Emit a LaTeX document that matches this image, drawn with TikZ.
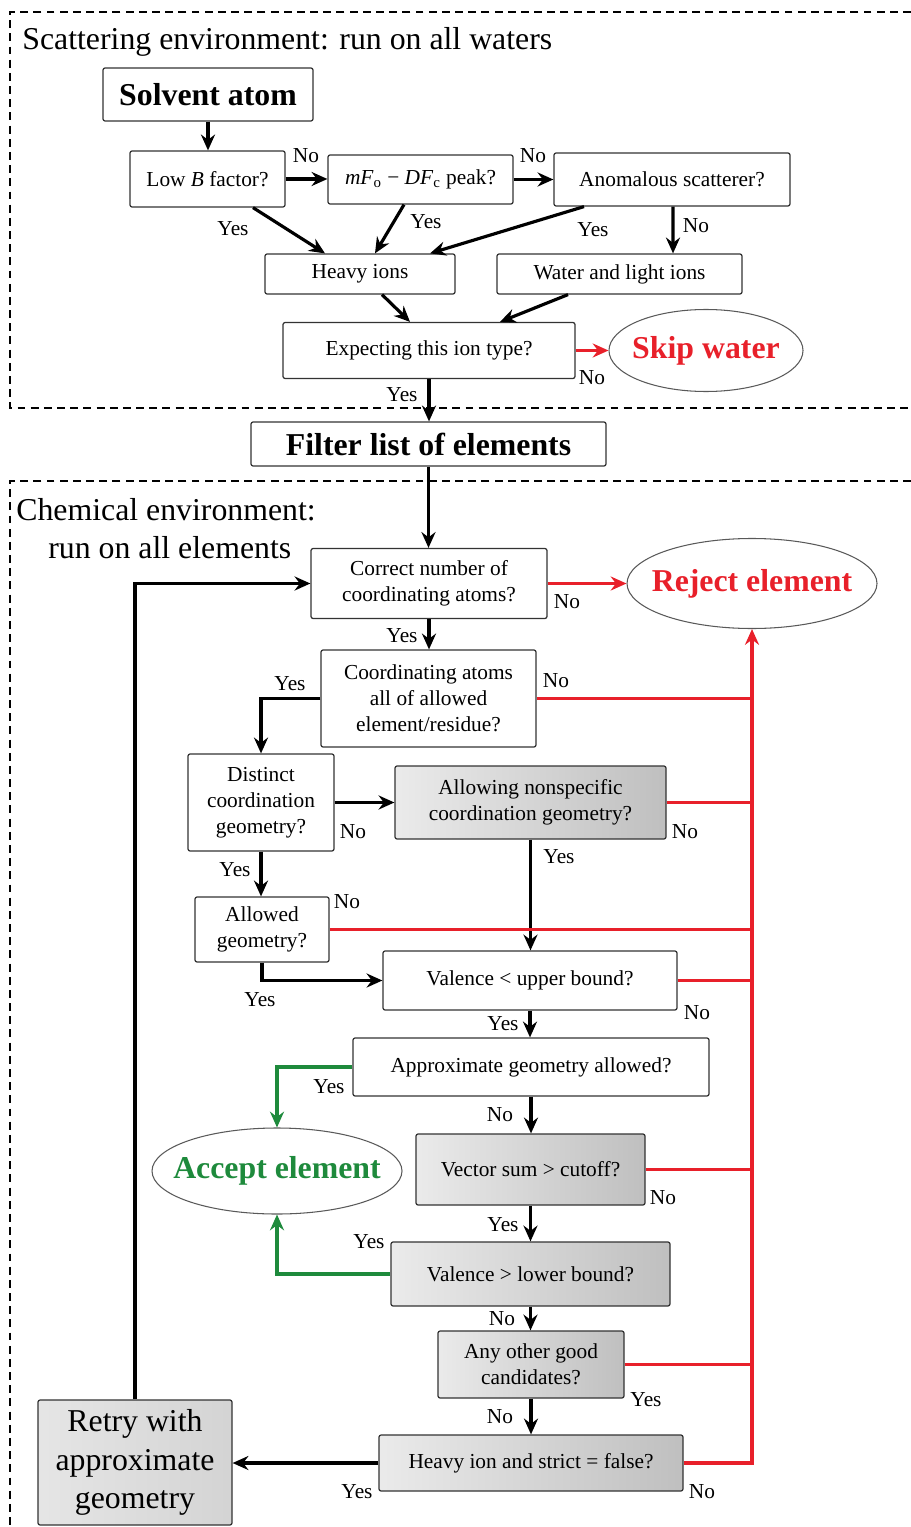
\documentclass[tikz,border=0pt]{standalone}
\usepackage{fontspec}
\setmainfont{Liberation Serif}
\usetikzlibrary{arrows.meta,calc,shapes.geometric}
\definecolor{rred}{HTML}{E8202A}
\definecolor{ggreen}{HTML}{1E8A3C}
\newcommand{\nsz}{\fontsize{12.15}{14.7}\selectfont}
\newcommand{\bsz}{\fontsize{18.1}{22.1}\selectfont}
\begin{document}
\begin{tikzpicture}[x=0.02cm,y=-0.02cm,
 box/.style={draw=black!80, line width=0.7pt, rounded corners=1.2pt, inner sep=0pt, align=center, font=\nsz},
 gbox/.style={box, left color=black!8, right color=black!25},
 sz/.style 2 args={minimum width=#1*0.02cm, minimum height=#2*0.02cm},
 ell/.style={ellipse, draw=black!65, line width=0.6pt, inner sep=0pt, font=\bsz\bfseries},
 lbl/.style={inner sep=0pt, font=\nsz},
 tip/.style={-{Stealth[length=9pt,width=8pt,inset=3pt]}},
 arr/.style={line width=1.8pt, tip},
 rln/.style={line width=1.8pt, draw=rred},
 gln/.style={line width=1.8pt, draw=ggreen},
 dsh/.style={line width=1.1pt, dash pattern=on 4.5pt off 3pt}
]
\useasboundingbox (0,0) rectangle (911,1527);
% dashed frames
\draw[dsh] (911,12) -- (10,12) -- (10,408) -- (911,408);
\draw[dsh] (911,481) -- (10,481) -- (10,1527);
% titles
\node[anchor=base west, inner sep=0pt, font=\bsz] (t1) at (22,50) {Scattering environment: run on all waters};
\node[anchor=base west, inner sep=0pt, font=\bsz] (t2) at (16,520) {Chemical environment:};
\node[anchor=base west, inner sep=0pt, font=\bsz] (t3) at (48,558) {run on all elements};
% top part
\node[box, sz={210}{53}, font=\bsz\bfseries] (solv) at (208,94.5) {Solvent atom};
\node[box, sz={155}{56}] (lowb) at (207.5,179) {Low \textit{B} factor?};
\node[box, sz={185}{49}] (mf) at (420.5,179.5) {\textit{mF}\textsubscript{o} − \textit{DF}\textsubscript{c} peak?};
\node[box, sz={236}{53}] (anom) at (672,179.5) {Anomalous scatterer?};
\node[box, sz={190}{40}] (heavy) at (360,274) {Heavy ions};
\node[box, sz={245}{40}] (water) at (619.5,274) {Water and light ions};
\node[box, sz={292}{56}] (expect) at (429,350.5) {Expecting this ion type?};
\node[ell, sz={194}{82}, text=rred] (skip) at (706,350.5) {\makebox[0pt]{Skip water}};
\node[box, sz={355}{44}, font=\bsz\bfseries] (filter) at (428.5,444) {Filter list of elements};
% lower part
\node[box, sz={236}{70}] (correct) at (429,583.5) {Correct number of\\coordinating atoms?};
\node[ell, sz={250}{90}, text=rred] (reject) at (752,583.5) {\makebox[0pt]{Reject element}};
\node[box, sz={215}{97}] (coord) at (428.5,698.5) {Coordinating atoms\\all of allowed\\element/residue?};
\node[box, sz={146}{97}] (distinct) at (261,802.5) {Distinct\\coordination\\geometry?};
\node[gbox, sz={271}{73}] (allowing) at (530.5,802.5) {Allowing nonspecific\\coordination geometry?};
\node[box, sz={134}{65}] (allowed) at (262,929.5) {Allowed\\geometry?};
\node[box, sz={294}{59}] (vup) at (530,980.5) {Valence < upper bound?};
\node[box, sz={356}{58}] (approx) at (531,1067) {Approximate geometry allowed?};
\node[gbox, sz={229}{71}] (vector) at (530.5,1169.5) {Vector sum > cutoff?};
\node[ell, sz={250}{86}, text=ggreen] (accept) at (277,1171) {\makebox[0pt]{Accept element}};
\node[gbox, sz={279}{64}] (vlow) at (530.5,1274) {Valence > lower bound?};
\node[gbox, sz={186}{67}] (anyo) at (531,1364.5) {Any other good\\candidates?};
\node[gbox, sz={304}{56}] (hstrict) at (531,1463) {Heavy ion and strict = false?};
\node[box, left color=black!10, right color=black!17, sz={194}{125}, font=\fontsize{18.1}{22.1}\selectfont] (retry) at (135,1462.5) {Retry with\\approximate\\geometry};
% top connectors
\draw[arr] (solv.south) -- (solv.south |- lowb.north);
\draw[arr] (lowb.east) -- (lowb.east -| mf.west);
\draw[arr] (mf.east) -- (mf.east -| anom.west);
\draw[arr] ($(lowb.south)+(45.5,0)$) -- ($(heavy.north)+(-35,0)$);
\draw[arr] ($(mf.south)+(-16.5,0)$) -- ($(heavy.north)+(15,0)$);
\draw[arr] ($(anom.south)+(-88,0)$) -- ($(heavy.north)+(70,0)$);
\draw[arr] ($(anom.south)+(1,0)$) -- ($(water.north)+(53.5,0)$);
\draw[arr] ($(heavy.south)+(22,0)$) -- ($(expect.north)+(-19,0)$);
\draw[arr] ($(water.south)+(-51.5,0)$) -- ($(expect.north)+(71,0)$);
\draw[rln, tip] (expect.east) -- (skip.west);
\draw[arr] (expect.south) -- (expect.south |- filter.north);
% lower connectors
\draw[arr] (filter.south) -- (filter.south |- correct.north);
\draw[rln, tip] (correct.east) -- (reject.west);
\draw[arr] (correct.south) -- (correct.south |- coord.north);
\draw[arr] (coord.west) -| (distinct.north);
\draw[arr] (distinct.east) -- (distinct.east -| allowing.west);
\draw[arr] (distinct.south) -- (distinct.south |- allowed.north);
\draw[arr] (allowing.south) -- (allowing.south |- vup.north);
\draw[arr] (allowed.south) |- (vup.west);
\draw[arr] (vup.south) -- (vup.south |- approx.north);
\draw[arr] (approx.south) -- (approx.south |- vector.north);
\draw[arr] (vector.south) -- (vector.south |- vlow.north);
\draw[arr] (vlow.south) -- (vlow.south |- anyo.north);
\draw[arr] (anyo.south) -- (anyo.south |- hstrict.north);
\draw[arr] (hstrict.west) -- (hstrict.west -| retry.east);
\draw[arr] (retry.north) |- (correct.west);
\draw[gln, tip] (approx.west) -| (accept.north);
\draw[gln, tip] (vlow.west) -| (accept.south);
% red bus
\draw[rln, tip] (hstrict.east) -| (reject.south);
\draw[rln] (coord.east) -- (coord.east -| reject.south);
\draw[rln] (allowing.east) -- (allowing.east -| reject.south);
\draw[rln] (allowed.east) -- (allowed.east -| reject.south);
\draw[rln] (vup.east) -- (vup.east -| reject.south);
\draw[rln] (vector.east) -- (vector.east -| reject.south);
\draw[rln] (anyo.east) -- (anyo.east -| reject.south);
% labels
\node[lbl] (l1) at (306,156) {No};
\node[lbl] (l2) at (533,156) {No};
\node[lbl] (l3) at (233,229) {Yes};
\node[lbl] (l4) at (426,222) {Yes};
\node[lbl] (l5) at (593,230) {Yes};
\node[lbl] (l6) at (696,226) {No};
\node[lbl] (l7) at (592,378) {No};
\node[lbl] (l8) at (402,395) {Yes};
\node[lbl] (l9) at (567,602) {No};
\node[lbl] (l10) at (402,636) {Yes};
\node[lbl] (l11) at (290,684) {Yes};
\node[lbl] (l12) at (556,681) {No};
\node[lbl] (l13) at (353,832) {No};
\node[lbl] (l14) at (685,832) {No};
\node[lbl] (l15) at (559,857) {Yes};
\node[lbl] (l16) at (235,870) {Yes};
\node[lbl] (l17) at (347,902) {No};
\node[lbl] (l18) at (260,1000) {Yes};
\node[lbl] (l19) at (697,1013) {No};
\node[lbl] (l20) at (503,1024) {Yes};
\node[lbl] (l21) at (329,1087) {Yes};
\node[lbl] (l22) at (500,1115) {No};
\node[lbl] (l23) at (663,1198) {No};
\node[lbl] (l24) at (503,1225) {Yes};
\node[lbl] (l25) at (369,1242) {Yes};
\node[lbl] (l26) at (502,1319) {No};
\node[lbl] (l27) at (646,1400) {Yes};
\node[lbl] (l28) at (500,1417) {No};
\node[lbl] (l29) at (702,1492) {No};
\node[lbl] (l30) at (357,1492) {Yes};
\end{tikzpicture}
\end{document}
